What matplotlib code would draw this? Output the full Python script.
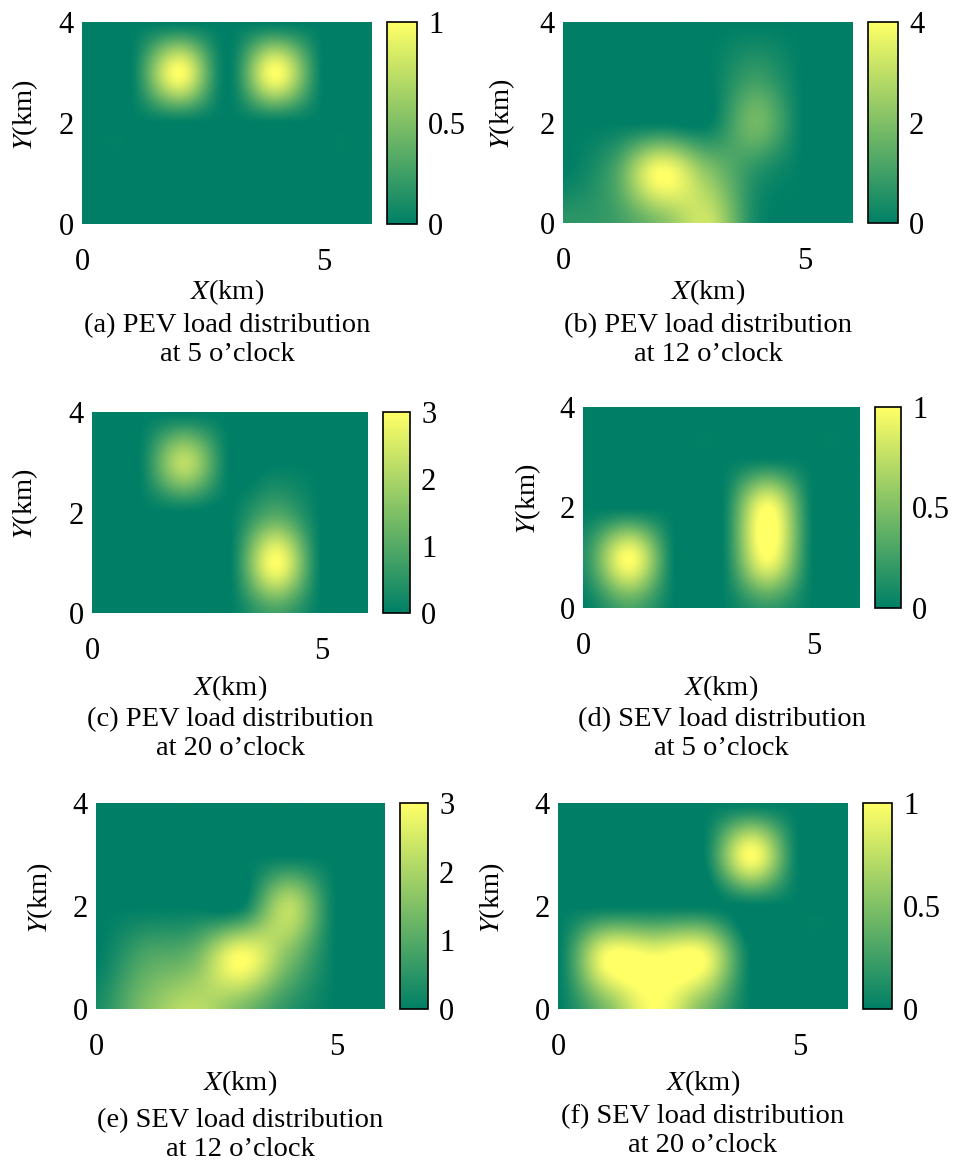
"""Six-panel PEV/SEV load distribution heatmaps (summer colormap)."""

import matplotlib.pyplot as plt
import numpy as np

plt.rcParams["font.family"] = "serif"
plt.rcParams["font.serif"] = ["Liberation Serif", "DejaVu Serif"]
plt.rcParams["mathtext.fontset"] = "stix"

# grid nodes (km); rows are y = 0..4, columns x = 0..6
X_KM = [0, 1, 2, 3, 4, 5, 6]
Y_KM = [0, 1, 2, 3, 4]

PEV_5H = [
    [0, 0, 0, 0, 0, 0, 0],
    [0, 0, 0, 0, 0, 0, 0],
    [0, 0, 0, 0, 0, 0, 0],
    [0, 0, 1, 0, 1, 0, 0],
    [0, 0, 0, 0, 0, 0, 0],
]
PEV_12H = [
    [0.7, 0.9, 2.0, 3.2, 0.3, 0, 0],
    [0, 1.0, 4.0, 2.2, 0.6, 0, 0],
    [0, 0, 0, 0, 1.8, 0, 0],
    [0, 0, 0, 0, 0.8, 0, 0],
    [0, 0, 0, 0, 0, 0, 0],
]
PEV_20H = [
    [0, 0, 0, 0, 0.8, 0, 0],
    [0, 0, 0, 0, 3.0, 0, 0],
    [0, 0, 0, 0, 0.9, 0, 0],
    [0, 0, 2.2, 0, 0, 0, 0],
    [0, 0, 0, 0, 0, 0, 0],
]
SEV_5H = [
    [0, 0.3, 0, 0, 0.2, 0, 0],
    [0.15, 1.0, 0, 0, 1.0, 0, 0],
    [0, 0, 0, 0, 1.0, 0, 0],
    [0, 0, 0, 0, 0, 0, 0],
    [0, 0, 0, 0, 0, 0, 0],
]
SEV_12H = [
    [0.3, 1.5, 2.2, 1.5, 0.5, 0, 0],
    [0, 0.9, 1.3, 3.0, 1.5, 0, 0],
    [0, 0, 0, 0, 2.2, 0, 0],
    [0, 0, 0, 0, 0, 0, 0],
    [0, 0, 0, 0, 0, 0, 0],
]
SEV_20H = [
    [0, 0.5, 1.0, 0.5, 0, 0, 0],
    [0, 1.0, 1.0, 1.0, 0, 0, 0],
    [0, 0, 0, 0, 0, 0, 0],
    [0, 0, 0, 0, 1.0, 0, 0],
    [0, 0, 0, 0, 0, 0, 0],
]

GRIDS = [PEV_5H, PEV_12H, PEV_20H, SEV_5H, SEV_12H, SEV_20H]
CBAR_MAX = [1, 4, 3, 1, 3, 1]
CBAR_TICKS = [[0, 0.5, 1], [0, 2, 4], [0, 1, 2, 3], [0, 0.5, 1], [0, 1, 2, 3], [0, 0.5, 1]]
CAPTIONS = [
    "(a) PEV load distribution\nat 5 o\u2019clock",
    "(b) PEV load distribution\nat 12 o\u2019clock",
    "(c) PEV load distribution\nat 20 o\u2019clock",
    "(d) SEV load distribution\nat 5 o\u2019clock",
    "(e) SEV load distribution\nat 12 o\u2019clock",
    "(f) SEV load distribution\nat 20 o\u2019clock",
]

# layout in pixels: (left, top, right, bottom) of the map, colorbar x-span, label spots
W, H = 964, 1167
AX_PX = [(82, 22, 372, 224), (563, 22, 853, 223), (92, 412, 368, 613),
         (583, 407, 860, 608), (96, 803, 385, 1009), (558, 803, 848, 1009)]
CB_PX = [(387, 417), (868, 898), (383, 410), (875, 901), (400, 428), (863, 892)]
YLAB_X = [25, 502, 25, 528, 40, 492]
XLAB_Y = [292, 292, 688, 688, 1083, 1083]
CAP_Y = [340, 340, 734, 734, 1135, 1131]

FS = 20.5
TICK_FS = 22
UPS = 40  # render samples per km


def fig_rect(l, t, r, b):
    return [l / W, 1 - b / H, (r - l) / W, (b - t) / H]


def cubic_weights(n, ups, a=-0.5):
    """Cubic-convolution (Keys) weights mapping n nodes to a fine axis."""
    u = np.linspace(0, n - 1, (n - 1) * ups + 1)
    base = np.floor(u).astype(int)
    w = np.zeros((u.size, n))
    for k in (-1, 0, 1, 2):
        j = base + k
        s = np.abs(u - j)
        kern = np.where(
            s <= 1,
            (a + 2) * s**3 - (a + 3) * s**2 + 1,
            np.where(s < 2, a * s**3 - 5 * a * s**2 + 8 * a * s - 4 * a, 0.0),
        )
        np.add.at(w, (np.arange(u.size), np.clip(j, 0, n - 1)), kern)
    return w


WX = cubic_weights(len(X_KM), UPS)
WY = cubic_weights(len(Y_KM), UPS)

fig = plt.figure(figsize=(W / 100, H / 100), dpi=100)

for i, grid in enumerate(GRIDS):
    l, t, r, b = AX_PX[i]
    ax = fig.add_axes(fig_rect(l, t, r, b))
    z = WY @ np.array(grid, dtype=float) @ WX.T
    im = ax.imshow(
        z, origin="lower", cmap="summer", vmin=0, vmax=CBAR_MAX[i],
        extent=(X_KM[0], X_KM[-1], Y_KM[0], Y_KM[-1]),
        interpolation="bilinear", aspect="auto",
    )
    ax.set_xlim(X_KM[0], X_KM[-1])
    ax.set_ylim(Y_KM[0], Y_KM[-1])
    ax.set_xticks([0, 5])
    ax.set_yticks([0, 2, 4])
    ax.tick_params(length=0, labelsize=TICK_FS)
    ax.tick_params(axis="x", pad=17)
    ax.tick_params(axis="y", pad=6)
    for s in ax.spines.values():
        s.set_visible(False)

    c0, c1 = CB_PX[i]
    cax = fig.add_axes(fig_rect(c0, t, c1, b))
    cb = fig.colorbar(im, cax=cax, ticks=CBAR_TICKS[i])
    cb.ax.set_yticklabels([f"{v:g}" for v in CBAR_TICKS[i]])
    cb.ax.tick_params(length=0, labelsize=TICK_FS, pad=8)
    cb.outline.set_linewidth(1.2)

    cx = (l + r) / 2
    fig.text(YLAB_X[i] / W, 1 - ((t + b) / 2 - 8) / H, r"$Y$(km)", rotation=90,
             ha="center", va="center", fontsize=FS)
    fig.text(cx / W, 1 - XLAB_Y[i] / H, r"$X$(km)", ha="center", va="center", fontsize=FS)
    fig.text(cx / W, 1 - CAP_Y[i] / H, CAPTIONS[i], ha="center", va="center",
             fontsize=FS, linespacing=1.2)

fig.savefig("out.png", dpi=100, facecolor="white")
